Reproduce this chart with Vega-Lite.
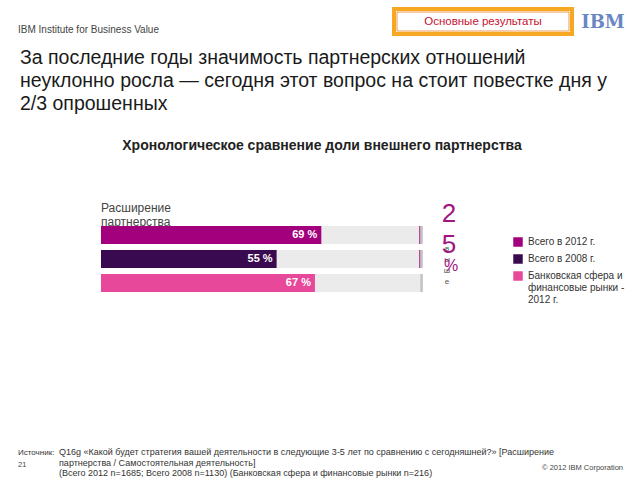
{
  "$schema": "https://vega.github.io/schema/vega-lite/v6.json",
  "width": 640,
  "height": 480,
  "autosize": {"type": "fit", "contains": "padding"},
  "padding": 0,
  "background": "white",
  "config": {"view": {"stroke": null}, "font": "Liberation Sans"},
  "datasets": {
    "bars": [
      {"series": "Всего в 2012 г.", "value": 69, "label": "69 %"},
      {"series": "Всего в 2008 г.", "value": 55, "label": "55 %"},
      {"series": "Банковская сфера и финансовые рынки - 2012 г.", "value": 67, "label": "67 %"}
    ],
    "one": [{}]
  },
  "layer": [
    {"data": {"name": "one"}, "mark": {"type": "text", "text": "IBM Institute for Business Value", "x": 17, "y": 32, "baseline": "alphabetic", "align": "left", "fontSize": 10, "color": "#444"}},
    {"data": {"name": "one"}, "mark": {"type": "rule", "x": 15, "x2": 625, "y": 37, "color": "#666", "strokeWidth": 1.2}, "encoding": {}},
    {"data": {"name": "one"}, "mark": {"type": "rect", "x": 393, "x2": 571, "y": 8, "y2": 33, "fill": "white", "stroke": "#f7a823", "strokeWidth": 4}, "encoding": {}},
    {"data": {"name": "one"}, "mark": {"type": "rect", "x": 396, "x2": 568, "y": 11, "y2": 30, "fill": "white", "stroke": "#e8801e", "strokeWidth": 0.8}, "encoding": {}},
    {"data": {"name": "one"}, "mark": {"type": "text", "text": "Основные результаты", "x": 482, "y": 21, "align": "center", "baseline": "middle", "fontSize": 11.5, "color": "#c8102e"}},
    {"data": {"name": "one"}, "mark": {"type": "text", "text": "IBM", "x": 602, "y": 22, "align": "center", "baseline": "middle", "fontSize": 18, "font": "DejaVu Serif", "fontWeight": "bold", "color": "#6a86c4"}},
    {"data": {"name": "one"}, "mark": {"type": "rule", "x": 578, "x2": 628, "y": 15, "color": "white", "strokeWidth": 1}, "encoding": {}},
    {"data": {"name": "one"}, "mark": {"type": "rule", "x": 578, "x2": 628, "y": 17.5, "color": "white", "strokeWidth": 1}, "encoding": {}},
    {"data": {"name": "one"}, "mark": {"type": "rule", "x": 578, "x2": 628, "y": 20, "color": "white", "strokeWidth": 1}, "encoding": {}},
    {"data": {"name": "one"}, "mark": {"type": "rule", "x": 578, "x2": 628, "y": 22.5, "color": "white", "strokeWidth": 1}, "encoding": {}},
    {"data": {"name": "one"}, "mark": {"type": "rule", "x": 578, "x2": 628, "y": 25, "color": "white", "strokeWidth": 1}, "encoding": {}},
    {"data": {"name": "one"}, "mark": {"type": "rule", "x": 578, "x2": 628, "y": 27.5, "color": "white", "strokeWidth": 1}, "encoding": {}},
    {"data": {"name": "one"}, "mark": {"type": "text", "text": ["За последние годы значимость партнерских отношений", "неуклонно росла — сегодня этот вопрос на стоит повестке дня у", "2/3 опрошенных"], "x": 19, "y": 63, "align": "left", "baseline": "alphabetic", "fontSize": 19.5, "lineHeight": 23, "color": "#1a1a1a"}},
    {"data": {"name": "one"}, "mark": {"type": "text", "text": "Хронологическое сравнение доли внешнего партнерства", "x": 321, "y": 145, "align": "center", "baseline": "middle", "fontSize": 14, "fontWeight": "bold", "color": "#222"}},
    {"data": {"name": "one"}, "mark": {"type": "text", "text": ["Расширение", "партнерства"], "x": 100, "y": 211, "align": "left", "baseline": "alphabetic", "fontSize": 12, "lineHeight": 14, "color": "#444"}},
    {"data": {"name": "bars"}, "mark": {"type": "bar", "color": "#c4c4c4"},
     "encoding": {
       "x": {"datum": 0.4, "type": "quantitative", "scale": {"domain": [0, 100], "range": [100, 419.3]}, "axis": null},
       "x2": {"datum": 100.8},
       "y": {"field": "series", "type": "nominal", "sort": null, "scale": {"domain": ["Всего в 2012 г.", "Всего в 2008 г.", "Банковская сфера и финансовые рынки - 2012 г."], "range": [225, 291], "paddingInner": 0.25, "paddingOuter": 0}, "axis": null}
     }},
    {"data": {"name": "bars"}, "mark": {"type": "bar", "color": "#ebebeb"},
     "encoding": {
       "x": {"datum": 0, "type": "quantitative"},
       "x2": {"datum": 100},
       "y": {"field": "series", "type": "nominal", "sort": null}
     }},
    {"data": {"name": "bars"}, "mark": {"type": "bar"},
     "encoding": {
       "x": {"field": "value", "type": "quantitative"},
       "x2": {"datum": 0},
       "y": {"field": "series", "type": "nominal", "sort": null},
       "color": {"field": "series", "type": "nominal",
         "scale": {"domain": ["Всего в 2012 г.", "Всего в 2008 г.", "Банковская сфера и финансовые рынки - 2012 г."], "range": ["#a3007e", "#3a0a50", "#e8489a"]},
         "legend": {"orient": "none", "legendX": 512, "legendY": 236, "title": null, "symbolType": "square", "symbolSize": 90, "symbolStrokeWidth": 0, "symbolOpacity": 1, "labelFontSize": 10, "labelFont": "Liberation Sans", "labelColor": "#333", "labelOffset": 5, "rowPadding": 7, "labelLimit": 300,
           "labelExpr": "datum.label == 'Банковская сфера и финансовые рынки - 2012 г.' ? ['Банковская сфера и', 'финансовые рынки -', '2012 г.'] : datum.label"}}
     }},
    {"data": {"name": "bars"}, "transform": [{"filter": "datum.value != 67"}], "mark": {"type": "bar", "color": "#b04a98"},
     "encoding": {
       "x": {"datum": 99.6, "type": "quantitative"},
       "x2": {"datum": 100},
       "y": {"field": "series", "type": "nominal", "sort": null}
     }},
    {"data": {"name": "bars"}, "mark": {"type": "text", "align": "right", "baseline": "middle", "dx": -4, "fontSize": 11, "fontWeight": "bold", "color": "white"},
     "encoding": {
       "x": {"field": "value", "type": "quantitative"},
       "y": {"field": "series", "type": "nominal", "sort": null},
       "text": {"field": "label"}
     }},
    {"data": {"name": "one"}, "mark": {"type": "text", "text": "2", "x": 448, "y": 221, "align": "center", "baseline": "alphabetic", "fontSize": 26, "color": "#a0157f"}},
    {"data": {"name": "one"}, "mark": {"type": "text", "text": "5", "x": 448, "y": 252, "align": "center", "baseline": "alphabetic", "fontSize": 26, "color": "#a0157f"}},
    {"data": {"name": "one"}, "mark": {"type": "text", "text": ["в", "ы", "ш", "е"], "x": 446, "y": 250, "align": "center", "baseline": "alphabetic", "fontSize": 8, "lineHeight": 11, "color": "#555"}},
    {"data": {"name": "one"}, "mark": {"type": "text", "text": "%", "x": 450, "y": 270, "align": "center", "baseline": "alphabetic", "fontSize": 16, "color": "#a0157f"}},
    {"data": {"name": "one"}, "mark": {"type": "text", "text": "Источник:", "x": 17, "y": 454, "align": "left", "baseline": "alphabetic", "fontSize": 8, "color": "#333"}},
    {"data": {"name": "one"}, "mark": {"type": "text", "text": ["Q16g «Какой будет стратегия вашей деятельности в следующие 3-5 лет по сравнению с сегодняшней?» [Расширение", "партнерства / Самостоятельная деятельность]", "(Всего 2012 n=1685; Всего 2008 n=1130) (Банковская сфера и финансовые рынки n=216)"], "x": 58, "y": 454, "align": "left", "baseline": "alphabetic", "fontSize": 9, "lineHeight": 10.5, "color": "#333"}},
    {"data": {"name": "one"}, "mark": {"type": "text", "text": "21", "x": 17, "y": 466, "align": "left", "baseline": "alphabetic", "fontSize": 7.5, "color": "#444"}},
    {"data": {"name": "one"}, "mark": {"type": "text", "text": "© 2012 IBM Corporation", "x": 622, "y": 469, "align": "right", "baseline": "alphabetic", "fontSize": 7.5, "color": "#444"}}
  ]
}
